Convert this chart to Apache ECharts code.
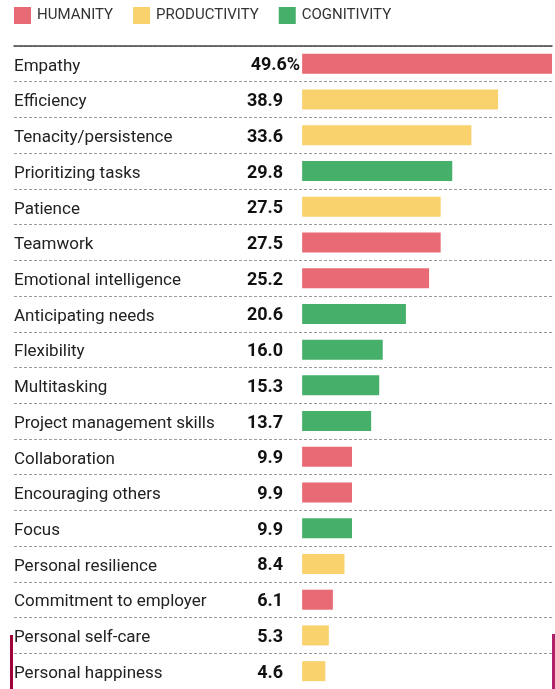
<!DOCTYPE html>
<html>
<head>
    <meta charset="utf-8">
    <title>Skills</title>
    <script src="https://cdn.jsdelivr.net/npm/echarts@6/dist/echarts.min.js"></script>
    <style>
        html, body { margin: 0; padding: 0; background: #fff; }
    </style>
</head>
<body>
    <div id="main" style="width: 555px;height:689px;"></div>
    <script type="text/javascript">

    // data
    var categories = ['Empathy', 'Efficiency', 'Tenacity/persistence', 'Prioritizing tasks', 'Patience',
        'Teamwork', 'Emotional intelligence', 'Anticipating needs', 'Flexibility', 'Multitasking',
        'Project management skills', 'Collaboration', 'Encouraging others', 'Focus',
        'Personal resilience', 'Commitment to employer', 'Personal self-care', 'Personal happiness'];
    var values = [49.6, 38.9, 33.6, 29.8, 27.5, 27.5, 25.2, 20.6, 16.0, 15.3, 13.7, 9.9, 9.9, 9.9, 8.4, 6.1, 5.3, 4.6];
    var groups = ['HUMANITY', 'PRODUCTIVITY', 'PRODUCTIVITY', 'COGNITIVITY', 'PRODUCTIVITY',
        'HUMANITY', 'HUMANITY', 'COGNITIVITY', 'COGNITIVITY', 'COGNITIVITY',
        'COGNITIVITY', 'HUMANITY', 'HUMANITY', 'COGNITIVITY',
        'PRODUCTIVITY', 'HUMANITY', 'PRODUCTIVITY', 'PRODUCTIVITY'];
    var groupNames = ['HUMANITY', 'PRODUCTIVITY', 'COGNITIVITY'];
    var groupColors = ['#e86a74', '#f9d26d', '#46b06a'];

    var myChart = echarts.init(document.getElementById('main'));

    // one series per group, bars overlap on the same row
    var series = groupNames.map(function (g, k) {
        return {
            name: g,
            type: 'bar',
            barWidth: 20,
            barGap: '-100%',
            itemStyle: { color: groupColors[k] },
            label: {
                show: true,
                position: [-19, '50%'],
                offset: [0, 2],
                align: 'right',
                verticalAlign: 'middle',
                fontFamily: 'Roboto',
                fontWeight: 'bold',
                fontSize: 18,
                color: '#111',
                formatter: function (p) {
                    var s = values[p.dataIndex].toFixed(1);
                    return p.dataIndex === 0 ? s + '%' : s;
                }
            },
            data: values.map(function (v, i) {
                if (groups[i] !== g) return '-';
                if (i === 0) return { value: v, label: { position: [-2, '50%'] } };
                return v;
            })
        };
    });

    var option = {
        animation: false,
        textStyle: { fontFamily: 'Roboto' },
        legend: {
            data: groupNames,
            left: 14,
            top: 7,
            padding: 0,
            itemWidth: 17,
            itemHeight: 17,
            itemGap: 20,
            icon: 'rect',
            textStyle: { fontSize: 15, color: '#333', fontFamily: 'Roboto', padding: [2, 0, 0, 1] }
        },
        grid: { left: 14, right: 3, top: 46, bottom: -1 },
        xAxis: {
            type: 'value',
            position: 'top',
            min: -57.2,
            max: 49.6,
            axisLine: { show: true, lineStyle: { color: '#444', width: 1.5 } },
            axisTick: { show: false },
            axisLabel: { show: false },
            splitLine: { show: false }
        },
        yAxis: {
            type: 'category',
            inverse: true,
            data: categories,
            axisLine: { show: false },
            axisTick: { show: false },
            axisLabel: {
                inside: true,
                margin: 0,
                align: 'left',
                verticalAlign: 'middle',
                formatter: function (v) { return '{t|' + v + '}'; },
                rich: {
                    t: { fontSize: 17, color: '#222', fontFamily: 'Roboto', padding: [5, 0, 0, 0] }
                }
            },
            splitLine: { show: true, lineStyle: { color: '#9a9a9a', width: 1, type: [3, 2] } }
        },
        graphic: [
            { type: 'rect', shape: { x: 10, y: 635, width: 3, height: 54 }, style: { fill: '#a0003a' }, silent: true },
            { type: 'rect', shape: { x: 552, y: 634, width: 3, height: 55 }, style: { fill: '#b0216a' }, silent: true }
        ],
        series: series
    };

    myChart.setOption(option);
    </script>
</body>
</html>
